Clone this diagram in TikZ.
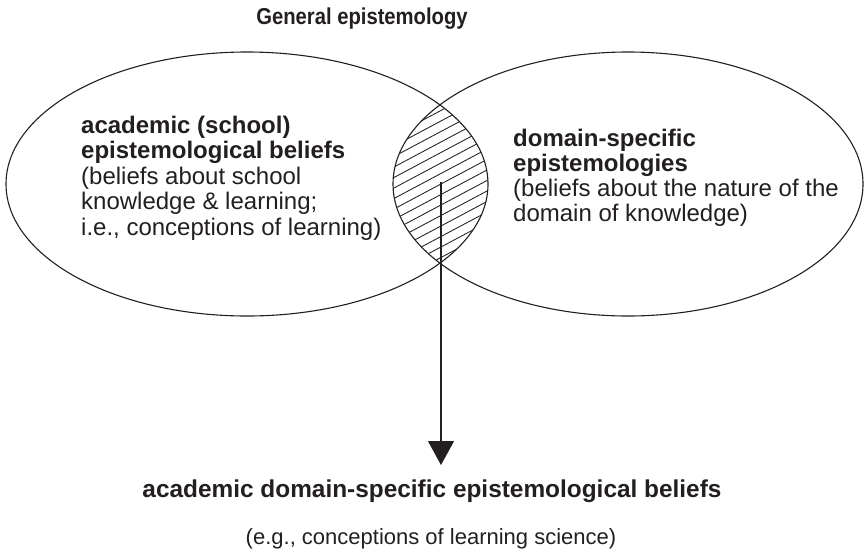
\documentclass[tikz,border=0pt]{standalone}
\usepackage{fontspec}
\setmainfont{Liberation Sans}
\newfontfamily\titlefont[FakeStretch=0.88]{Liberation Sans}
\usetikzlibrary{shapes.geometric,arrows.meta}
\definecolor{ink}{RGB}{35,31,32}
\tikzset{
  venn/.style={ellipse, draw=ink, line width=1.1pt, inner sep=0pt, outer sep=0pt},
  hatchline/.style={draw=ink, line width=0.85pt},
  bodytxt/.style={anchor=base west, inner sep=0pt, text=ink, font=\fontsize{24}{26}\selectfont},
  headtxt/.style={anchor=base west, inner sep=0pt, text=ink, font=\fontsize{24}{26}\selectfont\bfseries},
  link/.style={draw=ink, line width=1.1pt, -{Triangle[width=26pt,length=24pt]}}
}
\begin{document}
\begin{tikzpicture}[x=1pt,y=-1pt]
\useasboundingbox (0,0) rectangle (864,558);
% hatching of the overlap
\begin{scope}
  \clip (247,184) ellipse [x radius=241pt, y radius=132pt];
  \clip (628,184) ellipse [x radius=235pt, y radius=132pt];
  \foreach \c in {90,100.5,...,285} {
    \draw[hatchline] (340,\c+53.2) -- (540,\c-53.2);
  }
\end{scope}
% ellipses
\node[venn, minimum width=482pt, minimum height=264pt] (left) at (247,184) {};
\node[venn, minimum width=470pt, minimum height=264pt] (right) at (628,184) {};
% title
\node[anchor=base, inner sep=0pt, text=ink, font=\titlefont\fontsize{23}{23}\selectfont\bfseries] (title) at (362,24) {General epistemology};
% left text
\node[headtxt] (l1) at (81,133) {academic (school)};
\node[headtxt] (l2) at (81,158.5) {epistemological beliefs};
\node[bodytxt] (l3) at (81,184) {(beliefs about school};
\node[bodytxt] (l4) at (81,209.5) {knowledge \& learning;};
\node[bodytxt] (l5) at (81,235) {i.e., conceptions of learning)};
% right text
\node[headtxt] (r1) at (513,146) {domain-specific};
\node[headtxt] (r2) at (513,171) {epistemologies};
\node[bodytxt] (r3) at (513,196) {(beliefs about the nature of the};
\node[bodytxt] (r4) at (513,221) {domain of knowledge)};
% bottom
\node[anchor=base, inner sep=0pt, text=ink, font=\fontsize{24.4}{26}\selectfont\bfseries] (result) at (432,497) {academic domain-specific epistemological beliefs};
\node[anchor=base, inner sep=0pt, text=ink, font=\fontsize{22}{24}\selectfont] (example) at (431,544) {(e.g., conceptions of learning science)};
% arrow
\coordinate (start) at (441,182);
\coordinate (tip) at (441,465);
\draw[link] (start) -- (tip);
\end{tikzpicture}
\end{document}
